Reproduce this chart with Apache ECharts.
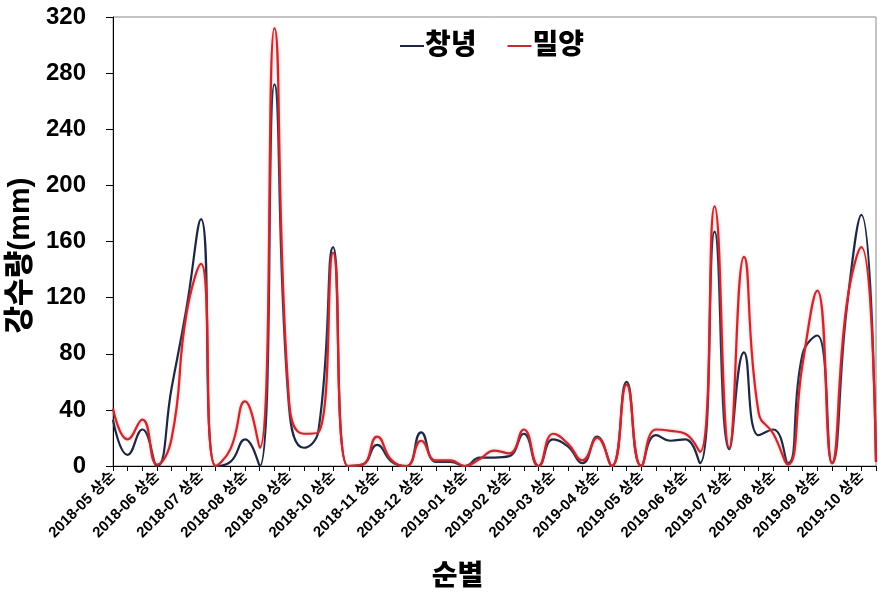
<!DOCTYPE html>
<html>
<head>
<meta charset="utf-8">
<script src="https://cdn.jsdelivr.net/npm/echarts@6/dist/echarts.min.js"></script>
<style>html,body{margin:0;padding:0;background:#fff}#c{width:886px;height:599px}</style>
</head>
<body>
<div id="c"></div>
<script>
const months = ['2018-05','2018-06','2018-07','2018-08','2018-09','2018-10','2018-11','2018-12','2019-01','2019-02','2019-03','2019-04','2019-05','2019-06','2019-07','2019-08','2019-09','2019-10'];
const dekads = ['상순','중순','하순'];
const categories = [];
months.forEach(m => dekads.forEach(d => categories.push(m + ' ' + d)));
categories.length = 53; // ends at 2019-10 중순

const changnyeong = [33,8,26,0,56,112,176,0,3,19,0,272,42,13,25,156,0,1,15,3,0,24,3,3,0,6,6,7,23,0,19,14,2,21,0,60,0,22,18,19,2,167,12,81,22,26,2,80,93,2,112,179,3];
const miryang = [41,19,33,1,20,108,144,0,12,46,13,312,46,23,24,152,0,1,21,4,0,18,4,4,0,5,11,9,26,0,23,16,4,20,0,58,0,26,25,23,10,185,13,149,38,23,1,73,125,2,115,156,3];

const seriesNames = ['창녕','밀양'];
const font = '"Liberation Sans", "Noto Sans CJK KR", sans-serif';

const chart = echarts.init(document.getElementById('c'));
chart.setOption({
  animation: false,
  backgroundColor: '#fff',
  grid: { left: 113, right: 10, top: 17, bottom: 133, containLabel: false, outerBoundsMode: 'none',
          show: true, borderColor: '#888', borderWidth: 1, backgroundColor: 'transparent' },
  legend: {
    data: seriesNames,
    left: 395, top: 27,
    icon: 'rect', itemWidth: 24, itemHeight: 2, itemGap: 31,
    textStyle: { fontSize: 28, fontWeight: 900, color: '#000', fontFamily: font, padding: [0,0,0,-4] }
  },
  xAxis: {
    type: 'category',
    data: categories,
    boundaryGap: false,
    name: '순별',
    nameLocation: 'middle',
    nameGap: 97,
    nameTextStyle: { fontSize: 28, fontWeight: 900, color: '#000', fontFamily: font, padding: [0, 74, 0, 0] },
    axisLine: { lineStyle: { color: '#000', width: 1 } },
    axisTick: { interval: 0, length: 5, lineStyle: { color: '#000' } },
    axisLabel: { interval: 2, rotate: 45, fontSize: 15, fontWeight: 'bold', color: '#000', fontFamily: font, margin: 8 },
    splitLine: { show: false }
  },
  yAxis: {
    type: 'value',
    min: 0, max: 320, interval: 40,
    name: '강수량(mm)',
    nameLocation: 'middle',
    nameGap: 77,
    nameMoveOverlap: false,
    nameTextStyle: { fontSize: 30, fontWeight: 900, color: '#000', fontFamily: font, padding: [0, 28, 0, 0] },
    axisLine: { show: true, lineStyle: { color: '#000', width: 1 } },
    axisTick: { show: true, length: 7, lineStyle: { color: '#000' } },
    axisLabel: { fontSize: 24, fontWeight: 'bold', color: '#000', fontFamily: font, margin: 27 },
    splitLine: { show: false }
  },
  series: [
    { name: seriesNames[0], type: 'line', data: changnyeong, smooth: 0.5, symbol: 'none', clip: true,
      itemStyle: { color: '#1c2744' }, lineStyle: { color: '#1c2744', width: 2.2 } },
    { name: seriesNames[1], type: 'line', data: miryang, smooth: 0.5, symbol: 'none', clip: true,
      itemStyle: { color: '#c62a30' }, lineStyle: { color: '#c62a30', width: 2.2, shadowColor: 'rgba(230,90,90,0.5)', shadowBlur: 3 } }
  ]
});
</script>
</body>
</html>
